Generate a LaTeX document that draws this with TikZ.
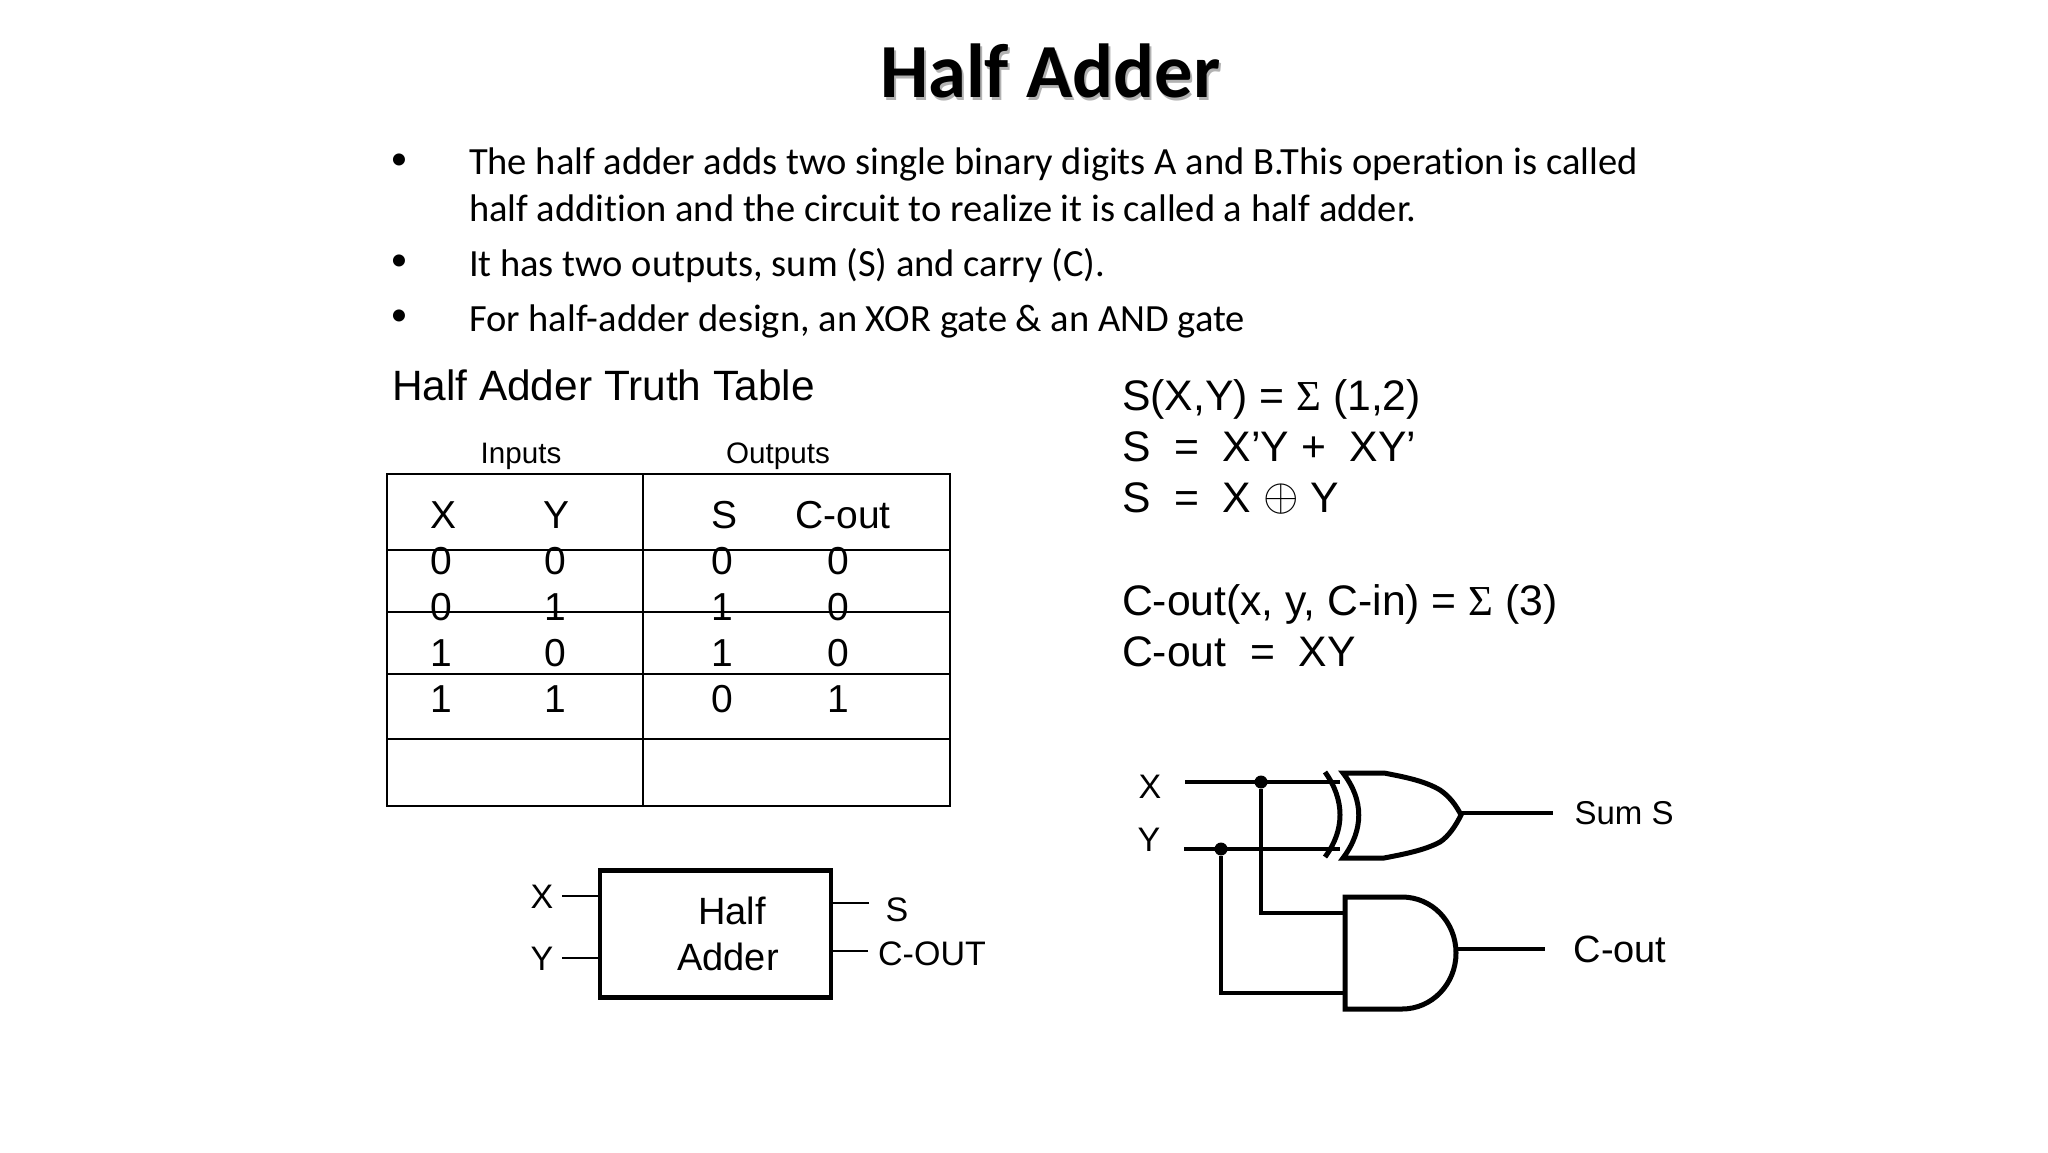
\documentclass[tikz,border=0pt]{standalone}
\usepackage{fontspec}
\setmainfont[Ligatures=NoCommon]{Carlito}
\newfontfamily\arialfont{Liberation Sans}
\newfontfamily\sigmafont{Liberation Serif}
\newcommand{\setpx}[1]{\fontsize{\dimexpr#1pt/2\relax}{\dimexpr#1pt*3/5\relax}\selectfont}
\newcommand{\sumsign}{{\sigmafont Σ}}
\usepackage{tikz}

\begin{document}
\begin{tikzpicture}[
            x=0.5pt, y=-0.5pt,
            every node/.style={inner sep=0pt, outer sep=0pt},
            titletext/.style={anchor=base west, font=\setpx{76.5}\bfseries},
            bodytext/.style={anchor=base west, font=\setpx{38.5}},
            eqtext/.style={anchor=base west, font=\arialfont\setpx{42.7}},
            headtext/.style={font=\arialfont\setpx{39}},
            smalltext/.style={font=\arialfont\setpx{29.6}},
            blocktext/.style={font=\arialfont\setpx{34}},
            tableline/.style={line width=1.3pt},
            thinwire/.style={line width=1.2pt},
            wire/.style={line width=1.9pt},
            gateline/.style={line width=2.5pt, line join=miter},
            jdot/.style={circle, fill=black, minimum size=6.5pt},
        ]
        \fill[white] (0,0) rectangle (2048,1152);
        \useasboundingbox (0,0) rectangle (2048,1152);

        % title and bullets
        \node[titletext, text=gray!60] (titleshade) at (882,100) {Half Adder};
        \node[titletext] (title) at (880,97) {Half Adder};
        \foreach \n/\y in {a/162, b/263, c/318}
            \node[font=\setpx{34}] (dot\n) at (399,\y) {•};
        \node[bodytext] (linea) at (469,174) {The half adder adds two single binary digits A and B.This operation is called};
        \node[bodytext] (lineb) at (469,221) {half addition and the circuit to realize it is called a half adder.};
        \node[bodytext] (linec) at (469,276) {It has two outputs, sum (S) and carry (C).};
        \node[bodytext] (lined) at (469,331) {For half-adder design, an XOR gate \& an AND gate};

        % truth table
        \node[anchor=base west, font=\arialfont\setpx{42.4}] (tabletitle) at (392,400) {Half Adder Truth Table};
        \node[smalltext] (inputs) at (521,456) {Inputs};
        \node[smalltext] (outputs) at (778,456) {Outputs};
        \draw[tableline] (387,474) rectangle (950,806);
        \draw[tableline] (643,474) -- (643,806);
        \foreach \y in {550, 612, 674, 739}
            \draw[tableline] (387,\y) -- (950,\y);
        \foreach \t/\x in {X/443, Y/556, S/724, C-out/843}
            \node[headtext] (head\t) at (\x,515) {\t};
        \foreach \r/\y/\a/\b/\c/\d in {1/561/0/0/0/0, 2/607/0/1/1/0, 3/653/1/0/1/0, 4/699/1/1/0/1} {
            \node[headtext] (x\r) at (441,\y) {\a};
            \node[headtext] (y\r) at (555,\y) {\b};
            \node[headtext] (s\r) at (722,\y) {\c};
            \node[headtext] (c\r) at (838,\y) {\d};
        }

        % block
        \node[draw, line width=2.2pt, minimum width=231pt/2, minimum height=127pt/2] (ha) at (715.5,934) {};
        \node[font=\arialfont\setpx{38}] (half) at (732,911) {Half};
        \node[font=\arialfont\setpx{38}] (adder) at (728,957) {Adder};
        \node[blocktext] (hax) at (542,897) {X};
        \node[blocktext] (hay) at (542,959) {Y};
        \node[blocktext] (has) at (897,910) {S};
        \node[blocktext] (hac) at (932,954) {C-OUT};
        \coordinate (haxin) at (562,896);
        \coordinate (hayin) at (562,958);
        \coordinate (hasout) at (869,903);
        \coordinate (hacout) at (868,951);
        \draw[thinwire] (haxin) -- (haxin -| ha.west);
        \draw[thinwire] (hayin) -- (hayin -| ha.west);
        \draw[thinwire] (hasout) -- (hasout -| ha.east);
        \draw[thinwire] (hacout) -- (hacout -| ha.east);

        % equations
        \node[eqtext] (eqa) at (1122,410) {S(X,Y) = \sumsign{} (1,2)};
        \node[eqtext] (eqb) at (1122,461) {S\ \ =\ \ X’Y +\ \ XY’};
        \node[eqtext] (eqc) at (1122,512) {S\ \ =\ \ X \raisebox{1pt}{\scalebox{1.1}{$\oplus$}} Y};
        \node[eqtext] (eqd) at (1122,615) {C-out(x, y, C-in) = \sumsign{} (3)};
        \node[eqtext] (eqe) at (1122,666) {C-out\ \ =\ \ XY};

        % xor gate
        \draw[gateline] (1325,772) .. controls (1345,800) and (1345,830) .. (1325,857);
        \draw[gateline] (1343,773) -- (1384,773) .. controls (1405,777) and (1425,781) .. (1440,790)
            .. controls (1449,796) and (1456,805) .. (1461,815)
            .. controls (1456,825) and (1449,836) .. (1440,842)
            .. controls (1425,850) and (1405,854) .. (1384,858) -- (1343,858)
            .. controls (1364,830) and (1364,800) .. (1343,773) -- cycle;

        % and gate
        \draw[gateline] (1345,897) -- (1402,897) .. controls (1432,897) and (1456,922) .. (1456,953)
            .. controls (1456,984) and (1432,1009) .. (1402,1009) -- (1345,1009) -- cycle;

        % wires
        \node[blocktext] (xlabel) at (1150,787) {X};
        \node[blocktext] (ylabel) at (1149,840) {Y};
        \node[jdot] (xdot) at (1261,782) {};
        \node[jdot] (ydot) at (1221,849) {};
        \coordinate (xin) at (1185,782);
        \coordinate (yin) at (1184,849);
        \coordinate (xora) at (1340,782);
        \coordinate (xorb) at (1340,849);
        \coordinate (anda) at (1345,913);
        \coordinate (andb) at (1345,993);
        \coordinate (xorout) at (1461,813);
        \coordinate (sumend) at (1553,813);
        \coordinate (andout) at (1456,949);
        \coordinate (coutend) at (1545,949);
        \draw[wire] (xin) -- (xora);
        \draw[wire] (yin) -- (xorb);
        \draw[wire] (xdot) |- (anda);
        \draw[wire] (ydot) |- (andb);
        \draw[wire] (xorout) -- (sumend);
        \draw[wire] (andout) -- (coutend);
        \node[font=\arialfont\setpx{33}] (sumlabel) at (1624,813) {Sum S};
        \node[font=\arialfont\setpx{38}] (coutlabel) at (1620,949) {C-out};
\end{tikzpicture}
\end{document}
